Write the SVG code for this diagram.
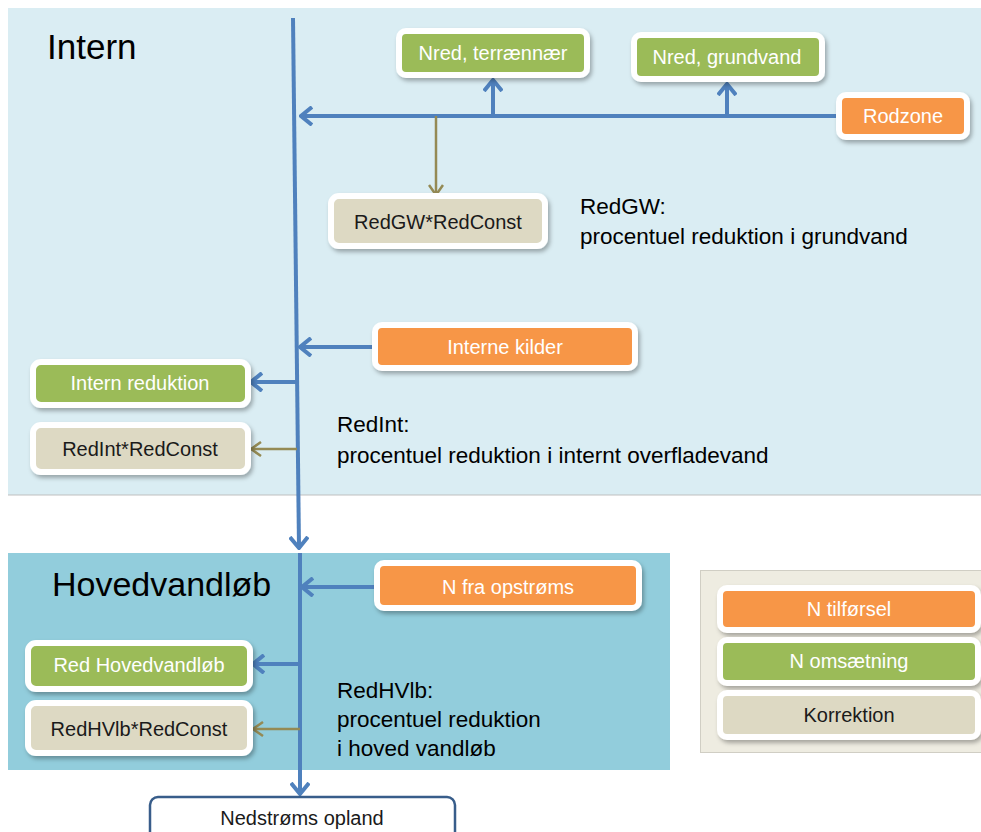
<svg xmlns="http://www.w3.org/2000/svg" width="981" height="832" viewBox="0 0 981 832">
<defs>
<style>
.t{font-family:"Liberation Sans",Arial,sans-serif;}
.nt{font-family:"Liberation Sans",Arial,sans-serif;font-size:20px;text-anchor:middle;dominant-baseline:central;}
.w{fill:#ffffff;}
.d{fill:#1a1a1a;}
.box{stroke:#ffffff;stroke-width:6;filter:url(#sh);}
.or{fill:#F79646;}
.gr{fill:#9BBB59;}
.tn{fill:#DDD9C3;}
.blue{stroke:#4F81BD;stroke-width:4;fill:none;}
.olive{stroke:#948A54;stroke-width:2.5;fill:none;}
.lbl{font-family:"Liberation Sans",Arial,sans-serif;font-size:22.5px;fill:#000;}
</style>
<filter id="sh" x="-10%" y="-20%" width="125%" height="150%">
<feDropShadow dx="2" dy="3" stdDeviation="2" flood-color="#000" flood-opacity="0.3"/>
</filter>
<marker id="ab" markerUnits="userSpaceOnUse" viewBox="0 0 14 20" refX="12" refY="10" markerWidth="14" markerHeight="20" orient="auto">
<path d="M1,1 L12,10 L1,19" fill="none" stroke="#4F81BD" stroke-width="4" stroke-linejoin="miter"/>
</marker>
<marker id="ao" markerUnits="userSpaceOnUse" viewBox="0 0 12 16" refX="11" refY="8" markerWidth="12" markerHeight="16" orient="auto">
<path d="M1,1 L11,8 L1,15" fill="none" stroke="#948A54" stroke-width="2.5"/>
</marker>
</defs>
<rect width="981" height="832" fill="#ffffff"/>
<g id="panel-intern">
<rect x="8" y="8" width="973" height="487" fill="#DAEDF3"/>
<line x1="8" y1="495" x2="981" y2="495" stroke="#BFBFBF" stroke-width="1"/>
<text class="t" x="47" y="59" font-size="35" fill="#000">Intern</text>
</g>
<g id="panel-hoved">
<rect x="8" y="553" width="662" height="217" fill="#92CDDC"/>
<text class="t" x="52" y="596" font-size="34" fill="#000">Hovedvandløb</text>
</g>
<g id="panel-legend">
<rect x="700.5" y="570.5" width="282" height="182" fill="#EEECE1" stroke="#D0CEC4" stroke-width="1"/>
</g>
<g id="connectors">
<line class="blue" x1="293" y1="18" x2="299" y2="548" marker-end="url(#ab)"/>
<line class="blue" x1="300" y1="553" x2="300" y2="794" marker-end="url(#ab)"/>
<line class="blue" x1="838" y1="116" x2="301" y2="116" marker-end="url(#ab)"/>
<line class="blue" x1="493" y1="116" x2="493" y2="80" marker-end="url(#ab)"/>
<line class="blue" x1="727" y1="116" x2="727" y2="84" marker-end="url(#ab)"/>
<line class="olive" x1="436" y1="116" x2="436" y2="195" marker-end="url(#ao)"/>
<line class="blue" x1="375" y1="347" x2="300" y2="347" marker-end="url(#ab)"/>
<line class="blue" x1="297" y1="382" x2="251" y2="382" marker-end="url(#ab)"/>
<line class="olive" x1="297" y1="449" x2="251" y2="449" marker-end="url(#ao)"/>
<line class="blue" x1="378" y1="587" x2="302" y2="587" marker-end="url(#ab)"/>
<line class="blue" x1="300" y1="664" x2="253" y2="664" marker-end="url(#ab)"/>
<line class="olive" x1="300" y1="729" x2="253" y2="729" marker-end="url(#ao)"/>
</g>
<g id="n-terraennaer">
<rect class="box gr" x="399" y="31" width="188" height="44" rx="7"/>
<text class="nt w" x="493" y="53">Nred, terrænnær</text>
</g>
<g id="n-grundvand">
<rect class="box gr" x="634" y="35" width="188" height="44" rx="7"/>
<text class="nt w" x="727" y="57">Nred, grundvand</text>
</g>
<g id="n-rodzone">
<rect class="box or" x="839" y="95" width="128" height="42" rx="7"/>
<text class="nt w" x="903" y="116">Rodzone</text>
</g>
<g id="n-redgw">
<rect class="box tn" x="331" y="196" width="214" height="50" rx="8"/>
<text class="nt d" x="438" y="222">RedGW*RedConst</text>
</g>
<g id="lbl-redgw">
<text class="lbl" x="580" y="214">RedGW:</text>
<text class="lbl" x="580" y="244">procentuel reduktion i grundvand</text>
</g>
<g id="n-interne">
<rect class="box or" x="375" y="325" width="260" height="43" rx="7"/>
<text class="nt w" x="505" y="347">Interne kilder</text>
</g>
<g id="n-internred">
<rect class="box gr" x="33" y="362" width="215" height="43" rx="8"/>
<text class="nt w" x="140" y="383">Intern reduktion</text>
</g>
<g id="n-redint">
<rect class="box tn" x="33" y="425" width="215" height="47" rx="8"/>
<text class="nt d" x="140" y="449">RedInt*RedConst</text>
</g>
<g id="lbl-redint">
<text class="lbl" x="337" y="432">RedInt:</text>
<text class="lbl" x="337" y="463">procentuel reduktion i internt overfladevand</text>
</g>
<g id="n-opstroms">
<rect class="box or" x="377" y="563" width="262" height="45" rx="7"/>
<text class="nt w" x="508" y="587">N fra opstrøms</text>
</g>
<g id="n-redhoved">
<rect class="box gr" x="28" y="643" width="222" height="46" rx="8"/>
<text class="nt w" x="139" y="665">Red Hovedvandløb</text>
</g>
<g id="n-redhvlb">
<rect class="box tn" x="28" y="703" width="222" height="50" rx="8"/>
<text class="nt d" x="139" y="729">RedHVlb*RedConst</text>
</g>
<g id="lbl-redhvlb">
<text class="lbl" x="337" y="698">RedHVlb:</text>
<text class="lbl" x="337" y="727">procentuel reduktion</text>
<text class="lbl" x="337" y="756">i hoved vandløb</text>
</g>
<g id="n-nedstroms">
<rect x="150" y="797" width="305" height="50" rx="8" fill="#ffffff" stroke="#385D8A" stroke-width="2.5"/>
<text class="nt d" x="302" y="818">Nedstrøms opland</text>
</g>
<g id="legend-tilforsel">
<rect class="box or" x="720" y="588" width="258" height="42" rx="7"/>
<text class="nt w" x="849" y="609">N tilførsel</text>
</g>
<g id="legend-omsaetning">
<rect class="box gr" x="720" y="640" width="258" height="43" rx="7"/>
<text class="nt w" x="849" y="661">N omsætning</text>
</g>
<g id="legend-korrektion">
<rect class="box tn" x="720" y="693" width="258" height="44" rx="7"/>
<text class="nt d" x="849" y="715">Korrektion</text>
</g>
</svg>
